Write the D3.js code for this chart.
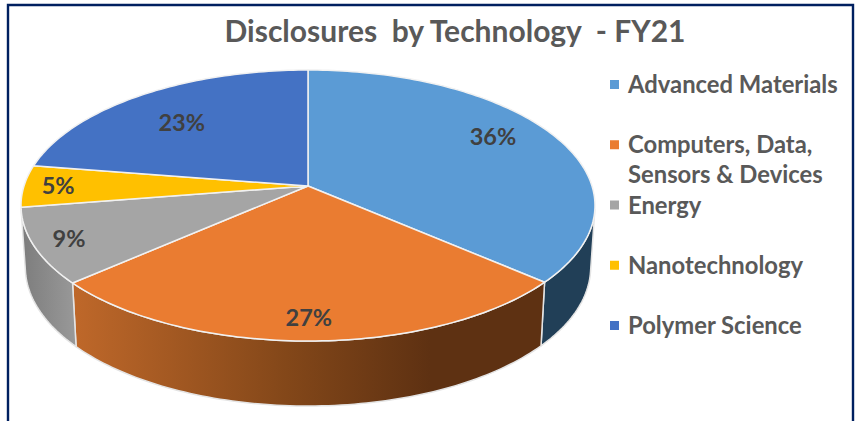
<!DOCTYPE html>
<html>
<head>
<meta charset="utf-8">
<script src="https://cdn.jsdelivr.net/npm/d3@7"></script>
<style>
  html, body { margin: 0; padding: 0; background: #fff; }
  svg { display: block; }
  text { font-family: Lato, "Open Sans", sans-serif; font-weight: 700; }
</style>
</head>
<body>
<div id="chart"></div>
<script>
// Data (labels show these rounded)
var categories = ['Advanced Materials', 'Computers, Data,|Sensors & Devices', 'Energy', 'Nanotechnology', 'Polymer Science']
var shares = [36.4, 27.1, 9, 5, 22.5]
var colors = ['#5b9bd5', '#ea7c31', '#a5a5a5', '#ffc000', '#4472c4']

// where each percent label sits: fraction of the radius, and degrees off the slice middle
var labelRadius = [0.79, 0.866, 0.88, 0.88, 0.7]
var labelTurn = [-5, 0, 0, 0, -2.5]

var width = 858
var height = 421

// pie plane seen in perspective: the hub is above the middle of the ellipse
var cx = 308
var cy = 186
var rx = 284
var ry = 132.7
var tilt = 0.144
var depth = 65

var svg = d3.select('#chart')
  .append('svg')
  .attr('width', width)
  .attr('height', height)

var defs = svg.append('defs')

var orangeWall = defs.append('linearGradient')
  .attr('id', 'orange-wall')
  .attr('gradientUnits', 'userSpaceOnUse')
  .attr('x1', 72).attr('x2', 430)
  .attr('y1', 0).attr('y2', 0)
orangeWall.append('stop').attr('offset', 0).attr('stop-color', '#bf682a')
orangeWall.append('stop').attr('offset', 0.6).attr('stop-color', '#834719')
orangeWall.append('stop').attr('offset', 1).attr('stop-color', '#5e3112')

var grayWall = defs.append('linearGradient')
  .attr('id', 'gray-wall')
  .attr('gradientUnits', 'userSpaceOnUse')
  .attr('x1', 22).attr('x2', 76)
  .attr('y1', 0).attr('y2', 0)
grayWall.append('stop').attr('offset', 0).attr('stop-color', '#7d7d7d')
grayWall.append('stop').attr('offset', 1).attr('stop-color', '#999999')

var wallFills = ['#213f57', 'url(#orange-wall)', 'url(#gray-wall)', 'none', 'none']

var pie = d3.pie().sort(null).value(function(d) { return d })
var slices = pie(shares)

var line = d3.line()

// angle on the pie (clockwise from 12 o'clock) to a point on the page
function project(angle, r) {
  var u = Math.sin(angle) * r
  var v = -Math.cos(angle) * r
  var s = 1 / (1 - tilt * v)
  return [cx + rx * u * s, cy + ry * v * s]
}

// same thing for the lower rim, a little narrower than the top
function projectLow(angle) {
  var p = project(angle, 1)
  return [cx + (p[0] - cx) * 0.985, p[1] + depth - 4 * (1 + Math.cos(angle))]
}

function arcAngles(a0, a1) {
  var n = Math.max(2, Math.ceil((a1 - a0) / 0.02))
  return d3.range(n + 1).map(function(i) {
    return a0 + (a1 - a0) * i / n
  })
}

function labelPoint(d) {
  var mid = (d.startAngle + d.endAngle) / 2 + labelTurn[d.index] * Math.PI / 180
  return project(mid, labelRadius[d.index])
}

// frame
svg.append('path')
  .attr('d', 'M8,' + height + 'V5H853V' + height)
  .attr('fill', 'none')
  .attr('stroke', '#002060')
  .attr('stroke-width', 2.4)

// side walls, only the part facing us
var wallFrom = 100 * Math.PI / 180
var wallTo = 260.5 * Math.PI / 180

svg.append('g')
  .selectAll('path')
  .data(slices.filter(function(d) {
    return d.startAngle < wallTo && d.endAngle > wallFrom
  }))
  .enter()
  .append('path')
  .attr('d', function(d) {
    var angles = arcAngles(Math.max(d.startAngle, wallFrom), Math.min(d.endAngle, wallTo))
    var top = angles.map(function(a) { return project(a, 1) })
    var low = angles.map(projectLow).reverse()
    return line(top.concat(low)) + 'Z'
  })
  .attr('fill', function(d) { return wallFills[d.index] })
  .attr('stroke', '#e4e4e4')
  .attr('stroke-width', 1.5)
  .attr('stroke-linejoin', 'round')

// top face
svg.append('g')
  .selectAll('path')
  .data(slices)
  .enter()
  .append('path')
  .attr('d', function(d) {
    var rim = arcAngles(d.startAngle, d.endAngle).map(function(a) { return project(a, 1) })
    return line([[cx, cy]].concat(rim)) + 'Z'
  })
  .attr('fill', function(d) { return colors[d.index] })
  .attr('stroke', '#f1f1f1')
  .attr('stroke-width', 1.5)
  .attr('stroke-linejoin', 'round')

// percent labels
svg.append('g')
  .selectAll('text')
  .data(slices)
  .enter()
  .append('text')
  .attr('x', function(d) { return labelPoint(d)[0] })
  .attr('y', function(d) { return labelPoint(d)[1] })
  .attr('dy', '0.35em')
  .attr('text-anchor', 'middle')
  .attr('font-size', 23.5)
  .attr('fill', '#404040')
  .text(function(d) { return Math.round(d.data) + '%' })

// title
svg.append('text')
  .attr('x', 455)
  .attr('y', 42)
  .attr('text-anchor', 'middle')
  .attr('font-size', 30)
  .attr('fill', '#595959')
  .style('white-space', 'pre')
  .text('Disclosures  by Technology  - FY21')

// legend
var legendY = d3.scalePoint()
  .domain(categories)
  .range([85, 326])

var legend = svg.append('g')
  .selectAll('g')
  .data(categories)
  .enter()
  .append('g')
  .attr('transform', function(d) { return 'translate(0,' + legendY(d) + ')' })

legend.append('rect')
  .attr('x', 610)
  .attr('y', -5)
  .attr('width', 9)
  .attr('height', 9)
  .attr('fill', function(d, i) { return colors[i] })

legend.append('text')
  .attr('font-size', 23.8)
  .attr('fill', '#595959')
  .selectAll('tspan')
  .data(function(d) { return d.split('|') })
  .enter()
  .append('tspan')
  .attr('x', 628)
  .attr('y', function(d, i) { return 8 + i * 30 })
  .text(function(d) { return d })
</script>
</body>
</html>
